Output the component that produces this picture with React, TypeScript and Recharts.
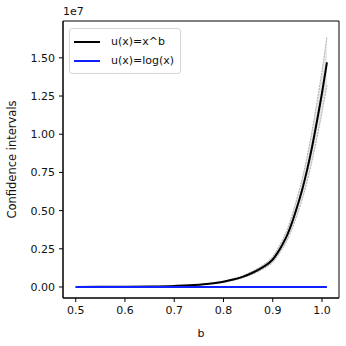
import React from 'react';
import {
  ComposedChart,
  Line,
  Area,
  XAxis,
  YAxis,
  Legend,
  Label,
  ReferenceArea
} from 'recharts';

// values are in units of 1e7 (matplotlib offset label)
const bValues = [0.5, 0.55, 0.6, 0.65, 0.7, 0.72, 0.74, 0.76, 0.78, 0.8, 0.82, 0.84, 0.86, 0.88, 0.9, 0.91, 0.92, 0.93, 0.94, 0.95, 0.96, 0.97, 0.98, 0.99, 1.0, 1.01];
const powerMean = [0.0005, 0.0009, 0.0018, 0.0035, 0.007, 0.0095, 0.013, 0.018, 0.025, 0.035, 0.049, 0.068, 0.095, 0.13, 0.18, 0.225, 0.28, 0.345, 0.43, 0.53, 0.64, 0.77, 0.92, 1.09, 1.27, 1.47];
const powerUpper = [0.0006, 0.001, 0.002, 0.004, 0.008, 0.0105, 0.0145, 0.02, 0.028, 0.039, 0.054, 0.075, 0.105, 0.144, 0.2, 0.25, 0.31, 0.383, 0.478, 0.59, 0.712, 0.857, 1.025, 1.215, 1.415, 1.64];
const powerLower = [0.0004, 0.0008, 0.0016, 0.003, 0.006, 0.0085, 0.0115, 0.016, 0.022, 0.031, 0.044, 0.061, 0.085, 0.117, 0.162, 0.203, 0.252, 0.31, 0.387, 0.477, 0.576, 0.693, 0.828, 0.98, 1.143, 1.32];
const logMean = [0, 0, 0, 0, 0, 0, 0, 0, 0, 0, 0, 0, 0, 0, 0, 0, 0, 0, 0, 0, 0, 0, 0, 0, 0, 0];

const xTicks = [0.5, 0.6, 0.7, 0.8, 0.9, 1.0];
const yTicks = [0, 0.25, 0.5, 0.75, 1.0, 1.25, 1.5];
const xDomain: [number, number] = [0.4742, 1.0345];
const yDomain: [number, number] = [-0.072, 1.741];

const data = bValues.map((b, i) => ({
  b,
  power: powerMean[i],
  band: [powerLower[i], powerUpper[i]],
  log: logMean[i]
}));

const FONT = '"DejaVu Sans", sans-serif';
const tickStyle = { fontSize: 11, fill: '#111', fontFamily: FONT };

const renderLegend = () => (
  <div
    style={{
      border: '1px solid #d6d6d6',
      borderRadius: 3,
      background: '#fff',
      padding: '3px 6px 3px 4px',
      fontFamily: FONT,
      fontSize: 11,
      color: '#111',
      lineHeight: '19px'
    }}
  >
    {[
      { name: 'u(x)=x^b', color: '#000' },
      { name: 'u(x)=log(x)', color: '#1020ff' }
    ].map((item) => (
      <div key={item.name} style={{ display: 'flex', alignItems: 'center' }}>
        <span style={{ display: 'inline-block', width: 26, height: 2, background: item.color, marginRight: 11 }} />
        {item.name}
      </div>
    ))}
  </div>
);

export default function App() {
  return (
    <div style={{ position: 'fixed', left: 0, top: 0, width: 346, height: 346, background: '#fff' }}>
      <ComposedChart
        width={346}
        height={346}
        data={data}
        margin={{ top: 21, right: 7, bottom: 0, left: 0 }}
      >
        <XAxis
          dataKey="b"
          type="number"
          domain={xDomain}
          ticks={xTicks}
          allowDataOverflow
          tickFormatter={(v: number) => v.toFixed(1)}
          tick={tickStyle}
          tickSize={4}
          tickMargin={4}
          height={48}
          axisLine={{ stroke: '#000' }}
          tickLine={{ stroke: '#000' }}
        >
          <Label value="b" position="insideBottom" offset={9} style={{ fontSize: 11, fill: '#111', fontFamily: FONT }} />
        </XAxis>
        <YAxis
          type="number"
          domain={yDomain}
          ticks={yTicks}
          allowDataOverflow
          tickFormatter={(v: number) => v.toFixed(2)}
          tick={tickStyle}
          tickSize={4}
          tickMargin={4}
          width={63}
          axisLine={{ stroke: '#000' }}
          tickLine={{ stroke: '#000' }}
        >
          <Label
            value="Confidence intervals"
            angle={-90}
            position="insideLeft"
            offset={12}
            style={{ textAnchor: 'middle', fontSize: 11.5, fill: '#111', fontFamily: FONT }}
          />
        </YAxis>
        <Area
          dataKey="band"
          type="monotone"
          fill="#b0b0b0"
          fillOpacity={0.3}
          stroke="#9a9a9a"
          strokeWidth={0.8}
          strokeDasharray="2 1"
          isAnimationActive={false}
          legendType="none"
        />
        <Line
          dataKey="power"
          name="u(x)=x^b"
          type="monotone"
          stroke="#000"
          strokeWidth={2}
          dot={false}
          isAnimationActive={false}
        />
        <Line
          dataKey="log"
          name="u(x)=log(x)"
          type="monotone"
          stroke="#1020ff"
          strokeWidth={2}
          dot={false}
          isAnimationActive={false}
        />
        <ReferenceArea
          x1={xDomain[0]}
          x2={xDomain[1]}
          y1={yDomain[0]}
          y2={yDomain[1]}
          fill="none"
          fillOpacity={0}
          stroke="#000"
          strokeWidth={1}
          ifOverflow="visible"
        />
        <Legend
          layout="vertical"
          align="center"
          verticalAlign="middle"
          content={renderLegend}
          wrapperStyle={{ position: 'absolute', top: 28, left: 69, width: 'auto' }}
        />
      </ComposedChart>
      <div style={{ position: 'absolute', left: 63, top: 5, fontFamily: FONT, fontSize: 11, color: '#111' }}>1e7</div>
    </div>
  );
}
